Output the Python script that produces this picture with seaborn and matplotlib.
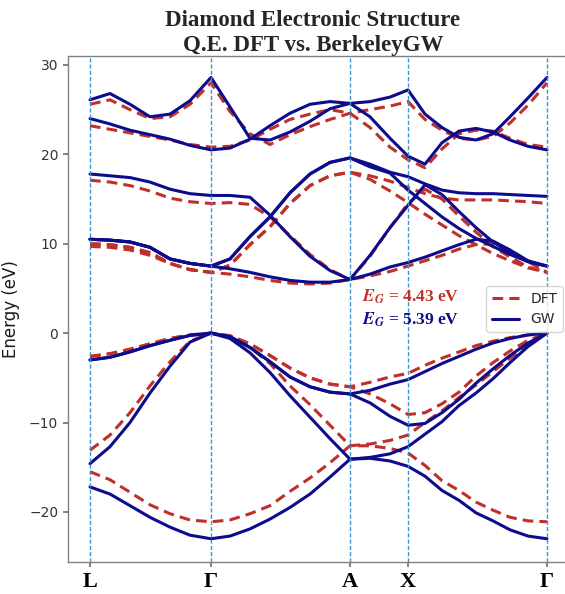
import matplotlib
matplotlib.use("Agg")
import matplotlib.pyplot as plt
import seaborn as sns
import pandas as pd
from matplotlib.lines import Line2D

# ---------------- data ----------------
# position along the k-path (path-length units)
k_path = [0, 20, 40, 60, 80, 100, 121, 140, 160, 180, 200, 220, 240, 260,
          280, 300, 318, 335, 352, 369, 386, 403, 420, 438, 457]
sym_pos = [0, 121, 260, 318, 457]
sym_labels = ["L", "Γ", "A", "X", "Γ"]
y_ticks = [-20, -10, 0, 10, 20, 30]

# GW (BerkeleyGW) bands, eV
gw_c1 = [26.1, 26.8, 25.6, 24.2, 24.5, 26.0, 28.6, 25.3, 21.8, 21.6, 22.5, 23.7, 25.1, 25.7,
         25.9, 26.4, 27.2, 24.5, 23.0, 21.9, 21.6, 22.3, 24.2, 26.3, 28.6]
gw_c2 = [24.0, 23.4, 22.7, 22.2, 21.7, 21.0, 20.5, 20.7, 21.7, 23.2, 24.6, 25.6, 25.9, 25.7,
         24.2, 21.8, 19.8, 18.9, 21.3, 22.6, 22.9, 22.5, 21.6, 20.9, 20.5]
gw_c3 = [17.8, 17.6, 17.4, 16.9, 16.1, 15.6, 15.4, 15.4, 15.2, 13.2, 10.8, 8.6, 7.0, 6.0,
         8.7, 11.8, 14.3, 16.6, 15.5, 13.6, 11.8, 10.2, 9.0, 8.0, 7.5]
gw_c4 = [10.5, 10.4, 10.2, 9.6, 8.3, 7.8, 7.5, 8.3, 10.8, 13.0, 15.7, 17.8, 19.1, 19.6,
         18.9, 18.0, 17.5, 16.7, 16.0, 15.7, 15.6, 15.6, 15.5, 15.4, 15.3]
gw_c5 = [10.5, 10.4, 10.2, 9.6, 8.3, 7.8, 7.5, 8.3, 10.8, 13.0, 15.7, 17.8, 19.1, 19.6,
         18.6, 17.9, 16.0, 14.5, 13.0, 11.7, 10.6, 9.7, 8.8, 8.0, 7.5]
gw_c6 = [10.5, 10.4, 10.2, 9.6, 8.3, 7.8, 7.5, 7.2, 6.8, 6.3, 5.9, 5.7, 5.7, 6.0,
         6.6, 7.4, 7.9, 8.5, 9.2, 9.9, 10.5, 10.3, 9.3, 8.1, 7.5]
gw_v1 = [-3.0, -2.7, -2.1, -1.4, -0.8, -0.25, 0.0, -0.4, -1.6, -3.2, -4.9, -6.0, -6.6, -6.8,
         -6.4, -5.7, -5.2, -4.3, -3.4, -2.6, -1.8, -1.1, -0.6, -0.2, 0.0]
gw_v2 = [-3.0, -2.7, -2.1, -1.4, -0.8, -0.25, 0.0, -0.4, -1.6, -3.2, -4.9, -6.0, -6.6, -6.8,
         -7.8, -9.3, -10.3, -10.1, -8.9, -7.4, -5.6, -4.0, -2.5, -1.1, 0.0]
gw_v3 = [-14.6, -12.7, -10.0, -6.7, -3.7, -1.0, 0.0, -0.6, -2.2, -4.4, -7.0, -9.4, -11.8, -14.1,
         -13.9, -13.5, -12.7, -11.3, -9.9, -8.1, -6.7, -5.1, -3.3, -1.5, 0.0]
gw_v4 = [-17.2, -18.0, -19.3, -20.6, -21.7, -22.6, -23.0, -22.7, -21.9, -20.8, -19.5, -18.0, -16.1, -14.1,
         -14.0, -14.3, -14.9, -16.0, -17.6, -18.7, -20.1, -21.0, -22.0, -22.7, -23.0]

# DFT (Quantum ESPRESSO) bands, eV
dft_c1 = [25.6, 26.1, 25.0, 24.0, 24.2, 25.6, 28.0, 24.8, 22.3, 21.1, 22.2, 23.1, 23.9, 24.6,
          25.0, 25.4, 25.9, 23.9, 22.7, 21.8, 21.6, 22.0, 23.5, 25.5, 28.0]
dft_c2 = [23.2, 22.8, 22.4, 22.0, 21.6, 21.1, 20.8, 20.9, 21.6, 22.8, 23.9, 24.5, 25.0, 24.6,
          23.0, 20.8, 19.4, 18.5, 20.6, 22.3, 22.7, 22.6, 21.8, 21.1, 20.8]
dft_c3 = [17.1, 16.9, 16.5, 15.9, 15.1, 14.7, 14.5, 14.6, 14.4, 13.0, 10.9, 8.8, 7.1, 6.0,
          8.6, 11.8, 14.5, 16.1, 15.0, 13.1, 11.3, 9.7, 8.5, 7.4, 6.8]
dft_c4 = [10.0, 9.9, 9.6, 9.0, 7.8, 7.1, 6.8, 7.6, 9.9, 11.9, 14.5, 16.5, 17.6, 18.0,
          17.6, 17.0, 16.3, 15.6, 15.1, 14.9, 14.9, 14.9, 14.8, 14.7, 14.5]
dft_c5 = [10.0, 9.9, 9.6, 9.0, 7.8, 7.1, 6.8, 7.6, 9.9, 11.9, 14.5, 16.5, 17.6, 18.0,
          17.2, 15.9, 14.6, 13.3, 12.1, 10.9, 9.9, 8.9, 8.1, 7.3, 6.8]
dft_c6 = [9.7, 9.6, 9.3, 8.7, 7.8, 7.1, 6.8, 6.6, 6.3, 5.9, 5.6, 5.5, 5.6, 6.0,
          6.4, 6.9, 7.5, 8.1, 8.7, 9.4, 9.9, 10.0, 9.3, 8.0, 6.8]
dft_v1 = [-2.6, -2.3, -1.8, -1.2, -0.6, -0.2, 0.0, -0.3, -1.2, -2.5, -3.9, -5.0, -5.7, -6.0,
          -5.5, -4.9, -4.5, -3.6, -2.8, -2.1, -1.4, -0.9, -0.5, -0.2, 0.0]
dft_v2 = [-2.6, -2.3, -1.8, -1.2, -0.6, -0.2, 0.0, -0.3, -1.2, -2.5, -3.9, -5.0, -5.7, -6.0,
          -6.8, -7.9, -9.1, -8.9, -7.9, -6.6, -4.8, -3.3, -2.0, -0.8, 0.0]
dft_v3 = [-13.1, -11.4, -8.9, -5.9, -3.2, -0.9, 0.0, -0.4, -1.6, -3.4, -5.9, -8.0, -10.3, -12.6,
          -12.4, -12.0, -11.4, -10.0, -8.7, -7.2, -5.8, -4.3, -2.8, -1.3, 0.0]
dft_v4 = [-15.5, -16.4, -17.8, -19.2, -20.2, -20.9, -21.1, -20.9, -20.2, -19.3, -17.7, -16.2, -14.5, -12.6,
          -12.6, -12.9, -13.4, -14.8, -16.5, -17.6, -18.9, -19.8, -20.6, -21.0, -21.1]

gap_dft = "4.43"
gap_gw = "5.39"

RED = "#c0302b"
NAVY = "#0c0c8c"
VLINE = "#3f95cc"

# ---------------- build long table ----------------
dft_bands = {"c1": dft_c1, "c2": dft_c2, "c3": dft_c3, "c4": dft_c4, "c5": dft_c5, "c6": dft_c6,
             "v1": dft_v1, "v2": dft_v2, "v3": dft_v3, "v4": dft_v4}
gw_bands = {"c1": gw_c1, "c2": gw_c2, "c3": gw_c3, "c4": gw_c4, "c5": gw_c5, "c6": gw_c6,
            "v1": gw_v1, "v2": gw_v2, "v3": gw_v3, "v4": gw_v4}

def long_table(bands, method):
    rows = []
    for name, vals in bands.items():
        for k, e in zip(k_path, vals):
            rows.append({"k": k, "E": e, "band": f"{method}_{name}", "method": method})
    return pd.DataFrame(rows)

df_dft = long_table(dft_bands, "DFT")
df_gw = long_table(gw_bands, "GW")

# ---------------- style ----------------
sns.set_theme(style="ticks")
plt.rcParams["font.family"] = ["DejaVu Sans"]
plt.rcParams["mathtext.fontset"] = "stix"

fig = plt.figure(figsize=(5.65, 5.94), dpi=100)
ax = fig.add_axes([68 / 565, 32 / 594, 502 / 565, 506 / 594])

sns.lineplot(data=df_dft, x="k", y="E", units="band", estimator=None, sort=False,
             color=RED, linewidth=2.2, linestyle=(0, (3.5, 2)), ax=ax, legend=False, zorder=2)
sns.lineplot(data=df_gw, x="k", y="E", units="band", estimator=None, sort=False,
             color=NAVY, linewidth=2.2, ax=ax, legend=False, zorder=2.1)

for p in sym_pos:
    ax.axvline(p, color=VLINE, lw=1.0, ls=(0, (3, 1.5)), zorder=3)

ax.set_xlim(-22, 480)
ax.set_ylim(-25.6, 31.0)
ax.set_xticks(sym_pos)
ax.set_xticklabels(sym_labels, fontsize=16, fontweight="bold", family="Liberation Serif", color="black")
ax.set_yticks(y_ticks)
ax.tick_params(axis="y", labelsize=10, colors="0.45", labelcolor="0.2", length=3.5)
ax.tick_params(axis="x", colors="0.45", labelcolor="black", length=3.5)
for s in ax.spines.values():
    s.set_color("0.5")
    s.set_linewidth(1.0)

ax.set_xlabel("")
ax.set_ylabel("Energy (eV)", fontsize=12, color="0.1")
ax.yaxis.set_label_coords(-0.096, 0.5)
ax.set_title("Diamond Electronic Structure\nQ.E. DFT vs. BerkeleyGW", fontsize=16.5,
             fontweight="bold", family="Liberation Serif", pad=3, x=0.488, linespacing=1.25)

ax.text(272, 4.07, r"$\mathbfit{E_G}$ = " + gap_dft + " eV", color=RED, fontsize=12.5,
        fontweight="bold", family="Liberation Serif", ha="left", va="center")
ax.text(272, 1.45, r"$\mathbfit{E_G}$ = " + gap_gw + " eV", color=NAVY, fontsize=12.5,
        fontweight="bold", family="Liberation Serif", ha="left", va="center")

handles = [Line2D([0], [0], color=RED, lw=2.2, ls=(0, (3.5, 2))),
           Line2D([0], [0], color=NAVY, lw=2.2)]
ax.legend(handles, ["DFT", "GW"], loc="center right", fontsize=10)

fig.savefig("out.png", dpi=100)
